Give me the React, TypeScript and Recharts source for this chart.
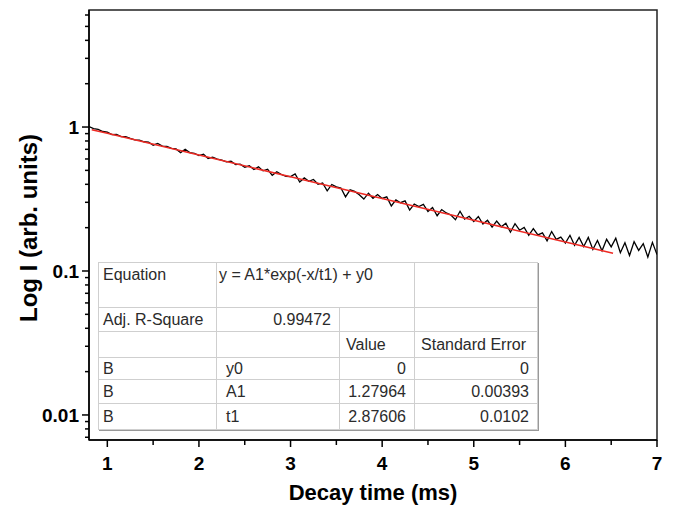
import { LineChart, Line, XAxis, YAxis, ReferenceArea } from 'recharts';

const decayTime = [
  0.8, 0.85, 0.9, 0.95,
  1, 1.05, 1.1, 1.15, 1.2, 1.25, 1.3, 1.35, 1.4, 1.45,
  1.5, 1.55, 1.6, 1.65, 1.7, 1.75, 1.8, 1.85, 1.9, 1.95,
  2, 2.05, 2.1, 2.15, 2.2, 2.25, 2.3, 2.35, 2.4, 2.45,
  2.5, 2.55, 2.6, 2.65, 2.7, 2.75, 2.8, 2.85, 2.9, 2.95,
  3, 3.05, 3.1, 3.15, 3.2, 3.25, 3.3, 3.35, 3.4, 3.45,
  3.5, 3.55, 3.6, 3.65, 3.7, 3.75, 3.8, 3.85, 3.9, 3.95,
  4, 4.05, 4.1, 4.15, 4.2, 4.25, 4.3, 4.35, 4.4, 4.45,
  4.5, 4.55, 4.6, 4.65, 4.7, 4.75, 4.8, 4.85, 4.9, 4.95,
  5, 5.05, 5.1, 5.15, 5.2, 5.25, 5.3, 5.35, 5.4, 5.45,
  5.5, 5.55, 5.6, 5.65, 5.7, 5.75, 5.8, 5.85, 5.9, 5.95,
  6, 6.05, 6.1, 6.15, 6.2, 6.25, 6.3, 6.35, 6.4, 6.45,
  6.5, 6.55, 6.6, 6.65, 6.7, 6.75, 6.8, 6.85, 6.9, 6.95, 7,
];
const intensity = [
  1.008, 0.975, 0.964, 0.931,
  0.922, 0.886, 0.89, 0.857, 0.858, 0.835, 0.815, 0.81, 0.79, 0.786,
  0.748, 0.769, 0.737, 0.735, 0.712, 0.704, 0.664, 0.7, 0.665, 0.657,
  0.633, 0.647, 0.605, 0.618, 0.598, 0.588, 0.572, 0.578, 0.548, 0.552,
  0.526, 0.538, 0.507, 0.529, 0.496, 0.509, 0.462, 0.489, 0.468, 0.455,
  0.452, 0.472, 0.415, 0.443, 0.42, 0.432, 0.4, 0.409, 0.36, 0.399,
  0.384, 0.377, 0.327, 0.366, 0.357, 0.339, 0.316, 0.347, 0.32, 0.34,
  0.319, 0.327, 0.283, 0.312, 0.298, 0.307, 0.265, 0.292, 0.28, 0.29,
  0.259, 0.276, 0.242, 0.267, 0.253, 0.245, 0.227, 0.26, 0.229, 0.24,
  0.221, 0.239, 0.212, 0.225, 0.202, 0.222, 0.203, 0.215, 0.186, 0.213,
  0.192, 0.201, 0.177, 0.197, 0.178, 0.184, 0.162, 0.188, 0.166, 0.172,
  0.156, 0.177, 0.151, 0.171, 0.148, 0.171, 0.141, 0.163, 0.138, 0.166,
  0.147, 0.169, 0.134, 0.157, 0.128, 0.16, 0.139, 0.155, 0.125, 0.158, 0.13,
];

// red exponential fit
const fitTime = [0.83, 1, 2, 3, 4, 5, 6, 6.52];
const fitIntensity = [0.959, 0.904, 0.639, 0.451, 0.319, 0.225, 0.159, 0.133];

const xMajor = [1, 2, 3, 4, 5, 6, 7];
const xMinor = [1.5, 2.5, 3.5, 4.5, 5.5, 6.5];
const yMajor = [0.01, 0.1, 1];
const yMinor = [
  0.007, 0.008, 0.009, 0.02, 0.03, 0.04, 0.05, 0.06, 0.07, 0.08, 0.09,
  0.2, 0.3, 0.4, 0.5, 0.6, 0.7, 0.8, 0.9, 2, 3, 4, 5, 6,
];

const colWidths = [118, 123, 75, 123];
const rowHeights = [45, 24, 26, 22, 24, 26];
const equationRow = ['Equation', 'y = A1*exp(-x/t1) + y0', ''];
const tableRows = [
  ['Adj. R-Square', '0.99472', '', ''],
  ['', '', 'Value', 'Standard Error'],
  ['B', 'y0', '0', '0'],
  ['B', 'A1', '1.27964', '0.00393'],
  ['B', 't1', '2.87606', '0.0102'],
];

const FONT = '"Liberation Sans", Arial, sans-serif';

const measured = decayTime.map((t, i) => ({ t, v: intensity[i] }));
const fitted = fitTime.map((t, i) => ({ t, v: fitIntensity[i] }));

const XTick = ({ x, y, payload }: any) => {
  const major = xMajor.includes(payload.value);
  return (
    <g>
      <line x1={x} x2={x} y1={y} y2={y + (major ? 7 : 5)} stroke="#000" strokeWidth={1.5} />
      {major && (
        <text x={x} y={y + 23} dy="0.35em" textAnchor="middle" fontFamily={FONT} fontWeight="bold" fontSize={19} fill="#000">
          {payload.value}
        </text>
      )}
    </g>
  );
};

const YTick = ({ x, y, payload }: any) => {
  const major = yMajor.includes(payload.value);
  return (
    <g>
      <line x1={x} x2={x - (major ? 7 : 4)} y1={y} y2={y} stroke="#000" strokeWidth={1.5} />
      {major && (
        <text x={x - 10} y={y} dy="0.35em" textAnchor="end" fontFamily={FONT} fontWeight="bold" fontSize={19} fill="#000">
          {String(payload.value)}
        </text>
      )}
    </g>
  );
};

const cellBase = {
  border: '1px solid #cfcfcf',
  whiteSpace: 'nowrap' as const,
  overflow: 'hidden',
  lineHeight: '18px',
  padding: '0 4px',
};

function FitTable() {
  return (
    <table
      style={{
        position: 'absolute',
        left: 98,
        top: 262,
        width: 439,
        borderCollapse: 'collapse',
        tableLayout: 'fixed',
        background: '#fff',
        border: '1.5px solid #444',
        boxShadow: '1px 1px 0 #999',
        fontFamily: FONT,
        fontSize: 16,
        color: '#2b2b2b',
      }}
    >
      <colgroup>
        {colWidths.map((w, i) => (
          <col key={i} style={{ width: w }} />
        ))}
      </colgroup>
      <tbody>
        <tr style={{ height: rowHeights[0] }}>
          {equationRow.map((cell, c) => (
            <td
              key={c}
              colSpan={c === 1 ? 2 : 1}
              style={{ ...cellBase, verticalAlign: 'top', paddingTop: 3, paddingLeft: c === 1 ? 2 : 4 }}
            >
              {cell}
            </td>
          ))}
        </tr>
        {tableRows.map((row, r) => (
          <tr key={r} style={{ height: rowHeights[r + 1] }}>
            {row.map((cell, c) => {
              const numeric = c >= 1 && /^[0-9.]+$/.test(cell);
              return (
                <td
                  key={c}
                  style={{
                    ...cellBase,
                    textAlign: numeric ? 'right' : 'left',
                    paddingRight: numeric ? 8 : 4,
                    paddingLeft: c === 1 && !numeric ? 9 : c >= 2 ? 6 : 4,
                  }}
                >
                  {cell}
                </td>
              );
            })}
          </tr>
        ))}
      </tbody>
    </table>
  );
}

export default function App() {
  return (
    <div style={{ position: 'absolute', left: 0, top: 0, width: 673, height: 507, background: '#fff' }}>
      <LineChart width={673} height={507} margin={{ top: 10, right: 16, bottom: 0, left: 0 }}>
        <XAxis
          dataKey="t"
          type="number"
          domain={[0.8, 7]}
          ticks={[...xMajor, ...xMinor].sort((a, b) => a - b)}
          interval={0}
          allowDataOverflow
          height={67}
          tickSize={0}
          tickMargin={0}
          tickLine={false}
          tick={<XTick />}
          axisLine={{ stroke: '#000', strokeWidth: 1.5 }}
          label={{
            content: () => (
              <text x={373} y={492} dy="0.35em" textAnchor="middle" fontFamily={FONT} fontWeight="bold" fontSize={22} fill="#000">
                Decay time (ms)
              </text>
            ),
          }}
        />
        <YAxis
          scale="log"
          type="number"
          domain={[0.0067, 6.5]}
          ticks={[...yMinor, ...yMajor].sort((a, b) => a - b)}
          interval={0}
          allowDataOverflow
          width={89}
          tickSize={0}
          tickMargin={0}
          tickLine={false}
          tick={<YTick />}
          axisLine={{ stroke: '#000', strokeWidth: 1.5 }}
          label={{
            content: () => (
              <text
                x={29}
                y={228}
                dy="0.35em"
                textAnchor="middle"
                transform="rotate(-90 29 228)"
                fontFamily={FONT}
                fontWeight="bold"
                fontSize={24}
                fill="#000"
              >
                Log I (arb. units)
              </text>
            ),
          }}
        />
        <ReferenceArea
          x1={0.8}
          x2={7}
          y1={0.0067}
          y2={6.5}
          fill="none"
          fillOpacity={0}
          stroke="#222"
          strokeWidth={1.5}
          ifOverflow="visible"
        />
        <Line
          data={measured}
          dataKey="v"
          type="linear"
          stroke="#000"
          strokeWidth={1.3}
          dot={false}
          isAnimationActive={false}
        />
        <Line
          data={fitted}
          dataKey="v"
          type="linear"
          stroke="#ee2a24"
          strokeWidth={1.5}
          dot={false}
          isAnimationActive={false}
        />
      </LineChart>
      <FitTable />
    </div>
  );
}
